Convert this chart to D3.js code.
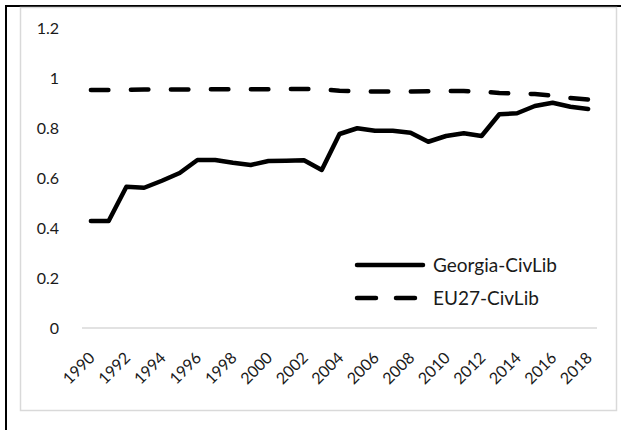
<!DOCTYPE html>
<html>
<head>
<meta charset="utf-8">
<script src="https://cdn.jsdelivr.net/npm/d3@7"></script>
<style>
  body { margin: 0; background: #fff; }
  text { font-family: Lato, "Open Sans", sans-serif; fill: #1a1a1a; }
</style>
</head>
<body>
<div id="chart"></div>
<script>
var years = d3.range(1990, 2019);
var tickYears = [1990, 1992, 1994, 1996, 1998, 2000, 2002, 2004, 2006, 2008,
                 2010, 2012, 2014, 2016, 2018];
var yTicks = [0, 0.2, 0.4, 0.6, 0.8, 1, 1.2];
var seriesNames = ["Georgia-CivLib", "EU27-CivLib"];

var georgia = [0.428, 0.428, 0.565, 0.561, 0.589, 0.620, 0.672, 0.672, 0.661, 0.652,
               0.668, 0.669, 0.671, 0.632, 0.776, 0.799, 0.789, 0.789, 0.781, 0.745,
               0.768, 0.779, 0.768, 0.855, 0.859, 0.888, 0.901, 0.885, 0.876];
var eu27 = [0.952, 0.952, 0.953, 0.954, 0.954, 0.954, 0.955, 0.955, 0.955, 0.955,
            0.955, 0.956, 0.956, 0.955, 0.949, 0.947, 0.946, 0.946, 0.946, 0.947,
            0.948, 0.948, 0.946, 0.940, 0.938, 0.936, 0.929, 0.920, 0.914];

var width = 621, height = 430;

var svg = d3.select("#chart")
    .append("svg")
    .attr("width", width)
    .attr("height", height);

// outer frame (black, only top and left visible) and inner chart box
svg.append("rect")
    .attr("x", 6).attr("y", 6)
    .attr("width", 700).attr("height", 500)
    .attr("fill", "none")
    .attr("stroke", "#000")
    .attr("stroke-width", 2);
svg.append("rect")
    .attr("x", 20.5).attr("y", 7.5)
    .attr("width", 596).attr("height", 403)
    .attr("fill", "none")
    .attr("stroke", "#d9d9d9")
    .attr("stroke-width", 1.5);

var x = d3.scaleBand()
    .domain(years)
    .range([82, 597]);

var y = d3.scaleLinear()
    .domain([0, 1.2])
    .range([328, 28]);

function cx(d) { return x(d) + x.bandwidth() / 2; }

// y axis labels
svg.append("g")
    .selectAll("text")
    .data(yTicks)
    .enter().append("text")
    .attr("x", 59)
    .attr("y", function(d) { return y(d); })
    .attr("dy", "0.35em")
    .attr("text-anchor", "end")
    .style("font-size", "16px")
    .text(function(d) { return d3.format("")(+d.toFixed(1)); });

// x axis line
svg.append("line")
    .attr("x1", 82).attr("x2", 597)
    .attr("y1", y(0)).attr("y2", y(0))
    .attr("stroke", "#d9d9d9")
    .attr("stroke-width", 1.5);

// x labels
svg.append("g")
    .selectAll("text")
    .data(tickYears)
    .enter().append("text")
    .attr("transform", function(d) {
        return "translate(" + (cx(d) + 1) + "," + 355 + ") rotate(-45)";
    })
    .attr("text-anchor", "end")
    .attr("dy", "0.35em")
    .style("font-size", "16px")
    .text(function(d) { return d; });

var line = d3.line()
    .x(function(d, i) { return cx(years[i]); })
    .y(function(d) { return y(d); });

svg.append("path")
    .datum(eu27)
    .attr("d", line)
    .attr("fill", "none")
    .attr("stroke", "#000")
    .attr("stroke-width", 4.5)
    .attr("stroke-linecap", "round")
    .attr("stroke-dasharray", "17.5 22.5");

svg.append("path")
    .datum(georgia)
    .attr("d", line)
    .attr("fill", "none")
    .attr("stroke", "#000")
    .attr("stroke-width", 4.5)
    .attr("stroke-linecap", "round")
    .attr("stroke-linejoin", "round");

// legend
var legend = svg.append("g");
var legendY = [265, 298];
seriesNames.forEach(function(name, i) {
    legend.append("line")
        .attr("x1", 357).attr("x2", 423)
        .attr("y1", legendY[i]).attr("y2", legendY[i])
        .attr("stroke", "#000")
        .attr("stroke-width", 4.5)
        .attr("stroke-linecap", "round")
        .attr("stroke-dasharray", i === 0 ? null : "19 20");
    legend.append("text")
        .attr("x", 433)
        .attr("y", legendY[i])
        .attr("dy", "0.35em")
        .style("font-size", "19px")
        .text(name);
});
</script>
</body>
</html>
